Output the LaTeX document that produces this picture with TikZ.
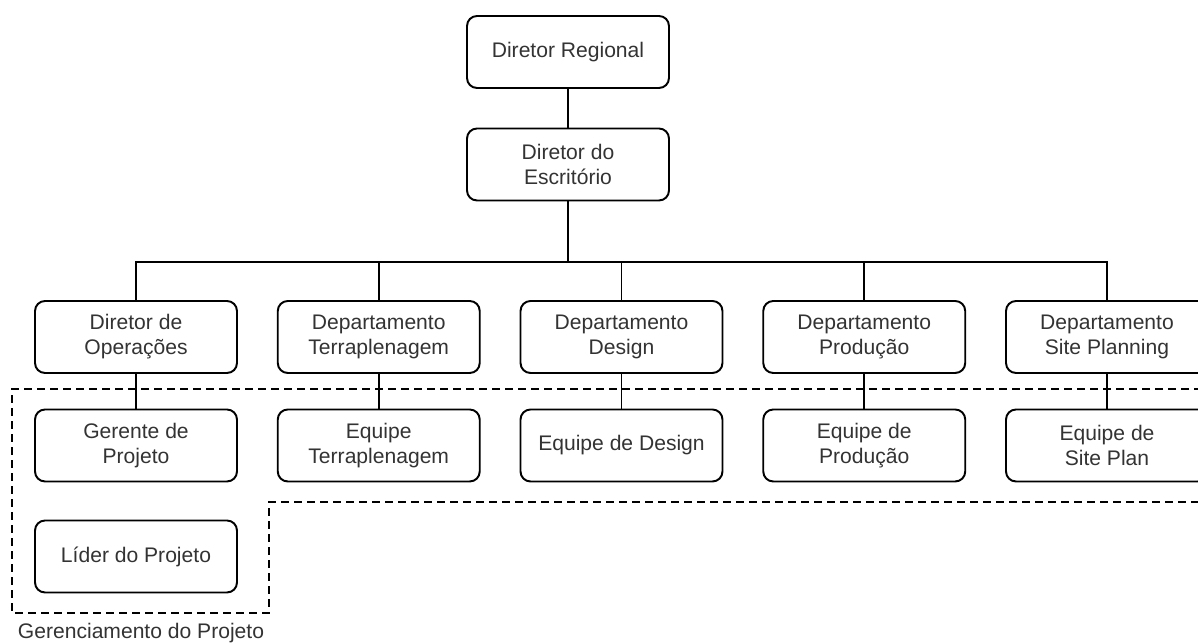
\documentclass[tikz,border=0pt]{standalone}
\usepackage{fontspec}
\setmainfont{Liberation Sans}
\begin{document}
\begin{tikzpicture}[x=0.02cm,y=-0.02cm,
  orgbox/.style={draw=black, line width=1.1pt, rounded corners=0.2cm,
    minimum width=4.04cm, minimum height=1.44cm, align=center,
    font=\fontsize{12}{14.2}\selectfont, text=black!80},
  link/.style={draw=black, line width=1.1pt},
  zone/.style={draw=black, line width=1.1pt, dash pattern=on 4.6pt off 2.8pt}]
\useasboundingbox (0,0) rectangle (1198,644);

% top of the hierarchy
\node[orgbox] (reg) at (568,52) {Diretor Regional};
\node[orgbox] (esc) at (568,164.5) {Diretor do\\Escritório};

% departments
\node[orgbox] (d1) at (136,337) {Diretor de\\Operações};
\node[orgbox] (d2) at (378.75,337) {Departamento\\Terraplenagem};
\node[orgbox] (d3) at (621.5,337) {Departamento\\Design};
\node[orgbox] (d4) at (864.25,337) {Departamento\\Produção};
\node[orgbox] (d5) at (1107,337) {Departamento\\Site Planning};

% teams
\node[orgbox] (e1) at (136,445.5) {Gerente de\\Projeto};
\node[orgbox] (e2) at (378.75,445.5) {Equipe\\Terraplenagem};
\node[orgbox] (e3) at (621.5,445.5) {Equipe de Design};
\node[orgbox] (e4) at (864.25,445.5) {Equipe de\\Produção};
\node[orgbox] (e5) at (1107,445.5) {Equipe de\\Site Plan};

\node[orgbox] (lid) at (136,556.5) {Líder do Projeto};

% connectors
\coordinate (bus) at (568,262);
\draw[link] (reg) -- (esc);
\draw[link] (esc) -- (bus);
\draw[link] (d1.north) |- (bus) -| (d5.north);
\foreach \k in {d2,d3,d4} \draw[link] (\k.north) -- (\k.north |- bus);
\foreach \k in {1,...,5} \draw[link] (d\k) -- (e\k);

% project management zone
\coordinate (z1) at (12,389);
\coordinate (z2) at (1215,389);
\coordinate (z3) at (1215,502);
\coordinate (z4) at (269,502);
\coordinate (z5) at (269,613);
\coordinate (z6) at (12,613);
\draw[zone] (z2) -- (z1) -- (z6) -- (z5) -- (z4) -- (z3);
\node[font=\fontsize{12}{14.2}\selectfont, text=black!80] (zl) at (141,633) {Gerenciamento do Projeto};
\end{tikzpicture}
\end{document}
